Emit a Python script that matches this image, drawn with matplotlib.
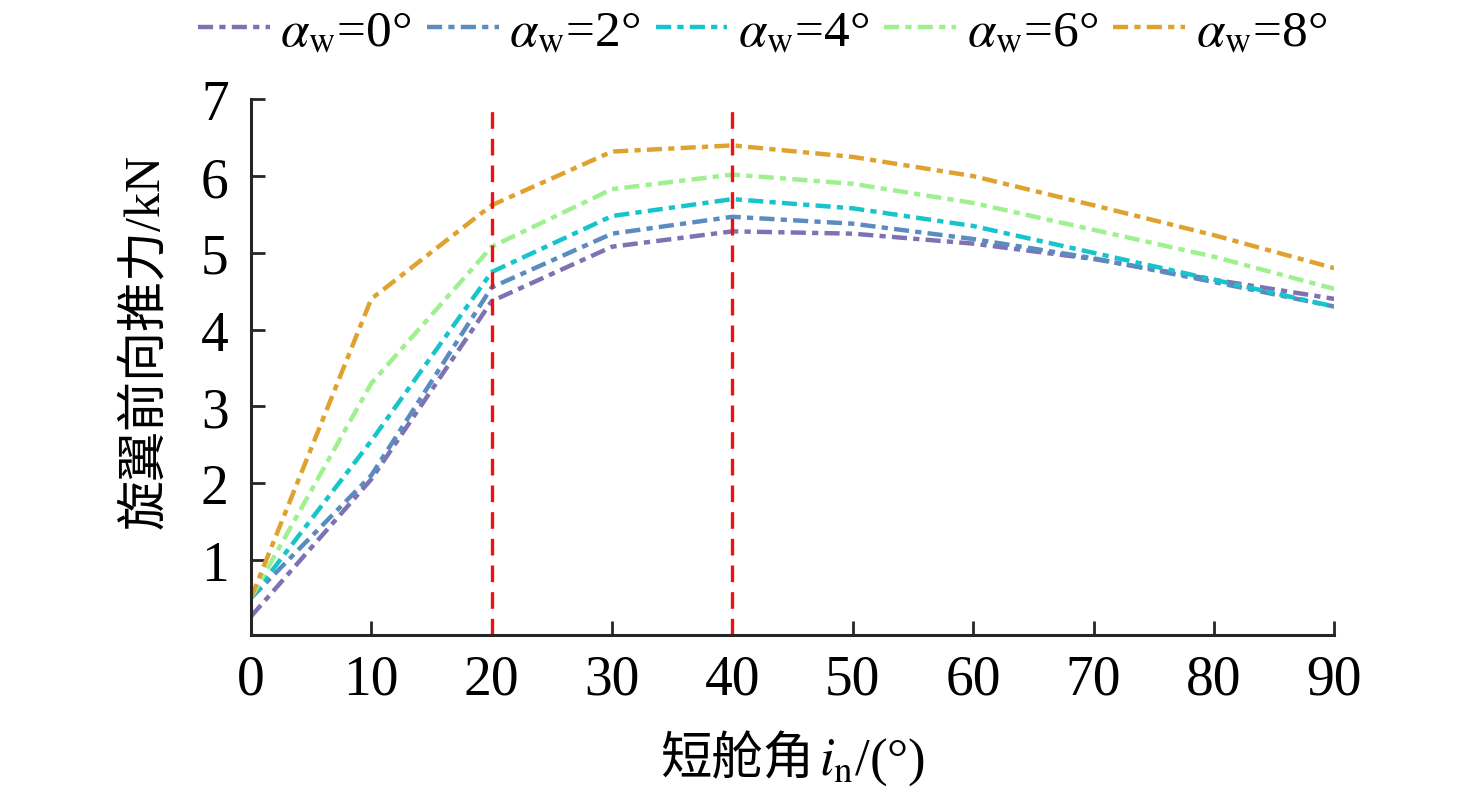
import numpy as np
import matplotlib
matplotlib.use("Agg")
import matplotlib.pyplot as plt
from matplotlib.offsetbox import TextArea, HPacker, AnchoredOffsetbox

plt.rcParams['font.family'] = ['Liberation Serif', 'Noto Sans CJK SC']
plt.rcParams['mathtext.fontset'] = 'stix'

# nacelle angle (deg)
angles = [0, 10, 20, 30, 40, 50, 60, 70, 80, 90]
wing_angles = [0, 2, 4, 6, 8]

thrust_w0 = [0.26, 2.05, 4.37, 5.08, 5.28, 5.25, 5.12, 4.92, 4.65, 4.40]
thrust_w2 = [0.50, 2.10, 4.55, 5.25, 5.47, 5.38, 5.18, 4.93, 4.62, 4.30]
thrust_w4 = [0.50, 2.55, 4.75, 5.48, 5.70, 5.58, 5.35, 5.00, 4.65, 4.30]
thrust_w6 = [0.50, 3.30, 5.08, 5.83, 6.02, 5.90, 5.65, 5.30, 4.95, 4.53]
thrust_w8 = [0.50, 4.40, 5.62, 6.32, 6.40, 6.25, 6.00, 5.62, 5.23, 4.80]

marker_angles = [20, 40]

colors = ['#7f72b4', '#5b8cc0', '#16c4cc', '#9ff08f', '#e0a22e']
series = [thrust_w0, thrust_w2, thrust_w4, thrust_w6, thrust_w8]

fig = plt.figure(figsize=(14.76, 8.03), dpi=100)
ax = fig.add_axes([0.170, 0.208, 0.734, 0.667])

for vals, aw, c in zip(series, wing_angles, colors):
    ax.plot(angles, vals, color=c, lw=3.2, dashes=(3.4, 1.4, 1.4, 1.4),
            label=r'$\alpha_{\rm w}$=' + '{}°'.format(aw))

for xa in marker_angles:
    ax.plot([xa, xa], [0.02, 6.85], color='#ee1111', lw=2.4, dashes=(5, 3))

ax.set_xlim(0, 90)
ax.set_ylim(0.02, 7)
ax.set_xticks(angles)
ax.set_yticks([1, 2, 3, 4, 5, 6, 7])
ax.tick_params(direction='in', length=10, width=2, labelsize=40, color='#262626')
ax.tick_params(axis='x', pad=13)
ax.tick_params(axis='y', pad=16)
for s in ['top', 'right']:
    ax.spines[s].set_visible(False)
for s in ['left', 'bottom']:
    ax.spines[s].set_linewidth(2.2)
    ax.spines[s].set_color('#262626')

# x label: Chinese text + math subscript, packed side by side
lab_cn = TextArea('短舱角', textprops=dict(fontsize=37, family=['Noto Sans CJK SC']))
lab_math = TextArea(r'$i_{\rm n}$/(°)', textprops=dict(fontsize=38))
xlab = HPacker(children=[lab_cn, lab_math], align='baseline', pad=0, sep=4)
box = AnchoredOffsetbox(loc='center', child=xlab, frameon=False,
                        bbox_to_anchor=(0.5, -0.232), bbox_transform=ax.transAxes,
                        borderpad=0, pad=0)
ax.add_artist(box)

ax.set_ylabel('旋翼前向推力/kN', fontsize=36)
ax.yaxis.set_label_coords(-0.076, 0.55)

ax.legend(loc='lower center', bbox_to_anchor=(0.472, 1.028), ncol=5, frameon=False,
          fontsize=37, handlelength=1.4, columnspacing=0.3, handletextpad=0.2,
          borderaxespad=0.15)

fig.savefig('out.png', dpi=100)
